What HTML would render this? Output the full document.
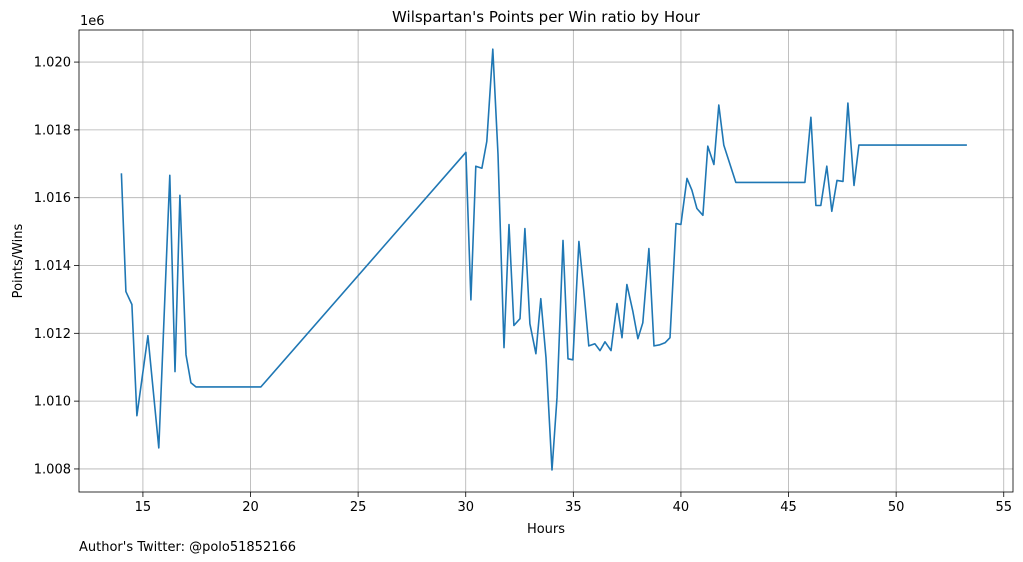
<!DOCTYPE html>
<html><head><meta charset="utf-8"><style>
body{margin:0;background:#fff;}
svg{display:block;font-family:"DejaVu Sans","Liberation Sans",sans-serif;}
</style></head><body>
<svg id="chart" width="1023" height="562"></svg>
<script>
const hours=[14.0,14.21,14.49,14.72,15.23,15.74,16.25,16.49,16.72,17.0,17.23,17.46,20.48,30.01,30.24,30.47,30.75,30.98,31.26,31.5,31.78,32.01,32.24,32.52,32.75,32.98,33.26,33.49,33.73,34.01,34.24,34.52,34.75,34.98,35.26,35.49,35.72,36.0,36.24,36.47,36.75,37.03,37.26,37.49,37.77,38.0,38.23,38.51,38.75,39.02,39.26,39.49,39.77,40.0,40.28,40.51,40.74,41.02,41.25,41.53,41.76,41.99,42.55,45.76,46.04,46.27,46.5,46.78,47.01,47.25,47.53,47.76,48.04,48.27,53.29];
const ratios=[1.01672,1.01323,1.01285,1.00957,1.01193,1.00862,1.01666,1.01087,1.01607,1.01137,1.01054,1.01042,1.01042,1.01734,1.01299,1.01693,1.01687,1.01766,1.02038,1.01728,1.01158,1.01521,1.01223,1.01243,1.01509,1.01228,1.0114,1.01302,1.01128,1.00797,1.0101,1.01474,1.01125,1.01122,1.01471,1.01323,1.01163,1.01169,1.01149,1.01175,1.01149,1.01288,1.01187,1.01344,1.01264,1.01184,1.01231,1.0145,1.01163,1.01166,1.01172,1.01187,1.01524,1.01521,1.01657,1.01622,1.01568,1.01548,1.01752,1.01698,1.01873,1.01755,1.01645,1.01645,1.01837,1.01577,1.01577,1.01693,1.0156,1.01651,1.01648,1.01879,1.01636,1.01755,1.01755];
const xTicks=[15,20,25,30,35,40,45,50,55];
const yTicks=[1.008,1.010,1.012,1.014,1.016,1.018,1.020];

const L=79,R=1013,T=30,B=492;
const xMin=12.03,xMax=55.43,yMin=1.00732,yMax=1.020946;
const sx=v=>L+(v-xMin)/(xMax-xMin)*(R-L);
const sy=v=>B-(v-yMin)/(yMax-yMin)*(B-T);
const svg=document.getElementById('chart');
const NS='http://www.w3.org/2000/svg';
function mk(tag,attrs,txt){const e=document.createElementNS(NS,tag);for(const k in attrs)e.setAttribute(k,attrs[k]);if(txt!==undefined)e.textContent=txt;svg.appendChild(e);return e;}

xTicks.forEach(t=>{const x=sx(t);
 const g=mk('line',{x1:x,x2:x,y1:T,y2:B,stroke:'#b0b0b0','stroke-width':0.8});
 
 
 const tk=mk('line',{x1:x,x2:x,y1:B,y2:B+5,stroke:'#000','stroke-width':0.8});
 
 
 const lb=mk('text',{x:x,y:B+19,'text-anchor':'middle','font-size':13},String(t));
 
 
});
yTicks.forEach(t=>{const y=sy(t);
 const g=mk('line',{x1:L,x2:R,y1:y,y2:y,stroke:'#b0b0b0','stroke-width':0.8});
 
 
 const tk=mk('line',{x1:L-5,x2:L,y1:y,y2:y,stroke:'#000','stroke-width':0.8});
 
 
 const lb=mk('text',{x:L-8,y:y+4.5,'text-anchor':'end','font-size':13},t.toFixed(3));
 
 
});
const pts=hours.map((h,i)=>sx(h).toFixed(1)+','+sy(ratios[i]).toFixed(1)).join(' ');
const line=mk('polyline',{points:pts,fill:'none',stroke:'#1f77b4','stroke-width':1.6,'stroke-linejoin':'round'});


const fr=mk('rect',{x:L,y:T,width:R-L,height:B-T,fill:'none',stroke:'#000','stroke-width':0.8});


const ti=mk('text',{x:(L+R)/2,y:22,'text-anchor':'middle','font-size':15},"Wilspartan's Points per Win ratio by Hour");


const off=mk('text',{x:80,y:25,'font-size':13},'1e6');


const xt=mk('text',{x:(L+R)/2,y:533,'text-anchor':'middle','font-size':13},'Hours');


const yt=mk('text',{x:0,y:0,'text-anchor':'middle','font-size':13,transform:'translate(22,261) rotate(-90)'},'Points/Wins');


const au=mk('text',{x:79,y:551,'font-size':13},"Author's Twitter: @polo51852166");


</script>
</body></html>
